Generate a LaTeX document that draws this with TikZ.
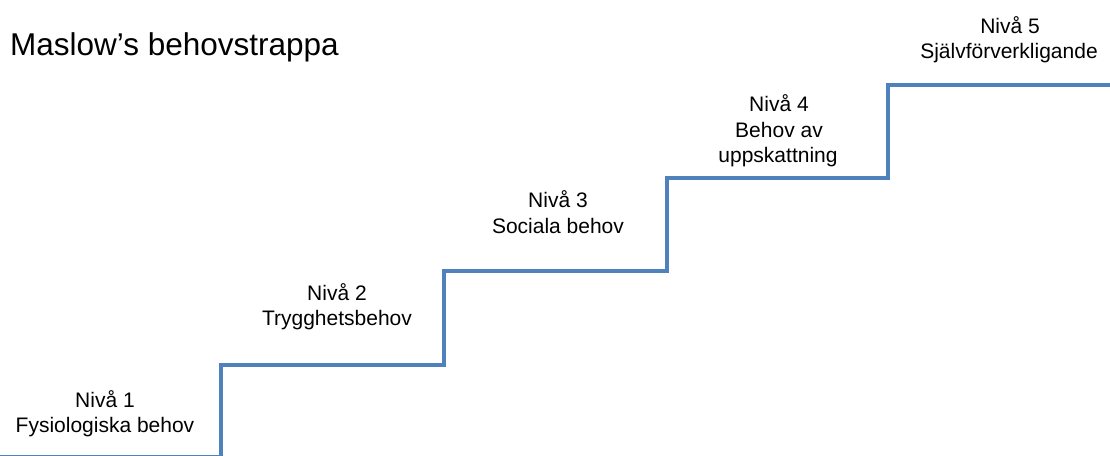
\documentclass[tikz,border=0pt]{standalone}
\usepackage{fontspec}
\setmainfont{Liberation Sans}
\definecolor{stairblue}{RGB}{79,129,189}
\begin{document}
\begin{tikzpicture}[x=1pt,y=-1pt,
  stair/.style={draw=stairblue,line width=4pt,line join=miter},
  lbl/.style={anchor=base,inner sep=0pt,font=\fontsize{21}{25}\selectfont},
  ttl/.style={anchor=base west,inner sep=0pt,font=\fontsize{31.5}{36}\selectfont}]
\useasboundingbox (0,0) rectangle (1110,455);
% title
\node[ttl] (title) at (10,55) {Maslow’s behovstrappa};
% corners of the staircase
\coordinate (s0) at (0,456.6);
\coordinate (s1) at (221,456.6);
\coordinate (s2) at (221,365);
\coordinate (s3) at (444,365);
\coordinate (s4) at (444,271);
\coordinate (s5) at (667,271);
\coordinate (s6) at (667,178);
\coordinate (s7) at (888,178);
\coordinate (s8) at (888,85);
\coordinate (s9) at (1112,85);
\draw[stair] (s0) -- (s1) -- (s2) -- (s3) -- (s4) -- (s5) -- (s6) -- (s7) -- (s8) -- (s9);
% level labels
\node[lbl] (l1a) at (105,407) {Nivå 1};
\node[lbl] (l1b) at (105,432) {Fysiologiska behov};
\node[lbl] (l2a) at (337,300) {Nivå 2};
\node[lbl] (l2b) at (337,325) {Trygghetsbehov};
\node[lbl] (l3a) at (558,207) {Nivå 3};
\node[lbl] (l3b) at (558,233) {Sociala behov};
\node[lbl] (l4a) at (779,111) {Nivå 4};
\node[lbl] (l4b) at (779,137) {Behov av};
\node[lbl] (l4c) at (778,162) {uppskattning};
\node[lbl] (l5a) at (1010,33) {Nivå 5};
\node[lbl] (l5b) at (1009,58) {Självförverkligande};
\end{tikzpicture}
\end{document}
